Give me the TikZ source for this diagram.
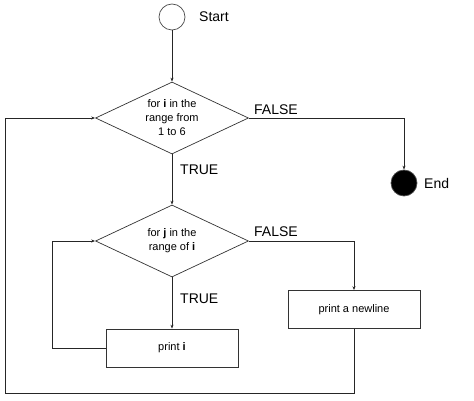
\documentclass[tikz,border=0pt]{standalone}
\usepackage{fontspec}
\setmainfont{Liberation Sans}
\usetikzlibrary{shapes.geometric,arrows.meta}

\tikzset{
  flow/.style={draw=black!85,line width=0.8pt},
  arr/.style={flow,-{Stealth[length=4pt,width=3pt]}},
  term/.style={circle,draw=black!70,line width=0.7pt,minimum size=26pt,inner sep=0pt},
  decide/.style={diamond,draw=black!80,line width=0.7pt,aspect=2.125,minimum width=153pt,minimum height=72pt,inner sep=0pt,align=center,font=\fontsize{11}{14}\selectfont},
  act/.style={rectangle,draw=black!80,line width=0.7pt,minimum width=132pt,minimum height=38pt,font=\fontsize{11}{14}\selectfont},
  lbl/.style={font=\fontsize{14}{16}\selectfont,inner sep=0pt}
}

\begin{document}
\begin{tikzpicture}[x=1pt,y=-1pt]
\useasboundingbox (0,0) rectangle (474,401);

\node[term] (start) at (172,17) {};
\node[lbl,anchor=west] (startlbl) at (199,17) {Start};
\node[decide] (iloop) at (172,118) {for \textbf{i} in the\\range from\\1 to 6};
\node[decide] (jloop) at (172,241) {for \textbf{j} in the\\range of \textbf{i}};
\node[term,fill=black] (stop) at (404,183) {};
\node[lbl,anchor=west] (stoplbl) at (424,183) {End};
\node[act] (newline) at (354,309.5) {print a newline};
\node[act] (printi) at (172,348) {print \textbf{i}};

\node[lbl,anchor=west] (ifalse) at (254,110) {FALSE};
\node[lbl,anchor=west] (itrue) at (180,170) {TRUE};
\node[lbl,anchor=west] (jfalse) at (254,232) {FALSE};
\node[lbl,anchor=west] (jtrue) at (180,299) {TRUE};

\coordinate (jback) at (52,348);
\coordinate (iback) at (5,393);

\draw[arr] (start) -- (iloop);
\draw[arr] (iloop.east) -| (stop.north);
\draw[arr] (iloop.south) -- (jloop.north);
\draw[arr] (jloop.east) -| (newline.north);
\draw[arr] (jloop.south) -- (printi.north);
\draw[arr] (printi.west) -- (jback) |- (jloop.west);
\draw[arr] (newline.south) |- (iback) |- (iloop.west);
\end{tikzpicture}
\end{document}
